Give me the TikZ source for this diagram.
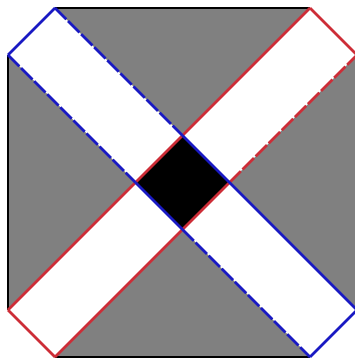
\documentclass[tikz,border=0pt]{standalone}
\usepackage{xcolor}
\usepackage{tikz}
\definecolor{stripblue}{RGB}{25,25,195}
\definecolor{stripred}{RGB}{205,45,55}
\definecolor{boardgray}{RGB}{128,128,128}

\begin{document}
\begin{tikzpicture}[x=1pt,y=-1pt,
    rim/.style={line width=2.6pt},
    gapped/.style={rim, dash pattern=on 16pt off 2.5pt}]
    \fill[white] (0,0) rectangle (355,358);
    \useasboundingbox (0,0) rectangle (355,358);

    % Cut corners of the board
    \coordinate (nwa) at (55,8);   \coordinate (nwb) at (8,55);
    \coordinate (nea) at (310,8);  \coordinate (neb) at (357,55);
    \coordinate (swa) at (8,310);  \coordinate (swb) at (55,357);
    \coordinate (sea) at (357,310); \coordinate (seb) at (310,357);

    % Centre square
    \coordinate (ctop) at (182.5,135.5);
    \coordinate (cright) at (229.5,182.5);
    \coordinate (cbottom) at (182.5,229.5);
    \coordinate (cleft) at (135.5,182.5);

    % Gray pieces
    \fill[boardgray] (nwa) -- (nea) -- (ctop) -- cycle;
    \fill[boardgray] (nwb) -- (swa) -- (cleft) -- cycle;
    \fill[boardgray] (swb) -- (seb) -- (cbottom) -- cycle;
    \fill[boardgray] (neb) -- (sea) -- (cright) -- cycle;
    \fill[black] (ctop) -- (cright) -- (cbottom) -- (cleft) -- cycle;

    % Outer border
    \draw[rim, black] (nwa) -- (nea);
    \draw[rim, black] (nwb) -- (swa);
    \draw[rim, black] (swb) -- (seb);
    \draw[rim, black] (neb) -- (sea);

    % Rising strip
    \draw[rim, stripred] (nea) -- (neb);
    \draw[rim, stripred] (swa) -- (swb);
    \draw[rim, stripred] (swa) -- (cleft) -- (ctop) -- (nea);
    \draw[rim, stripred] (swb) -- (cbottom) -- (cright);
    \draw[gapped, stripred] (cright) -- (neb);

    % Falling strip
    \draw[rim, stripblue] (nwa) -- (nwb);
    \draw[rim, stripblue] (sea) -- (seb);
    \draw[gapped, stripblue] (nwa) -- (ctop);
    \draw[rim, stripblue] (ctop) -- (cright) -- (sea);
    \draw[gapped, stripblue] (nwb) -- (cleft);
    \draw[rim, stripblue] (cleft) -- (cbottom);
    \draw[gapped, stripblue] (cbottom) -- (seb);
\end{tikzpicture}
\end{document}
